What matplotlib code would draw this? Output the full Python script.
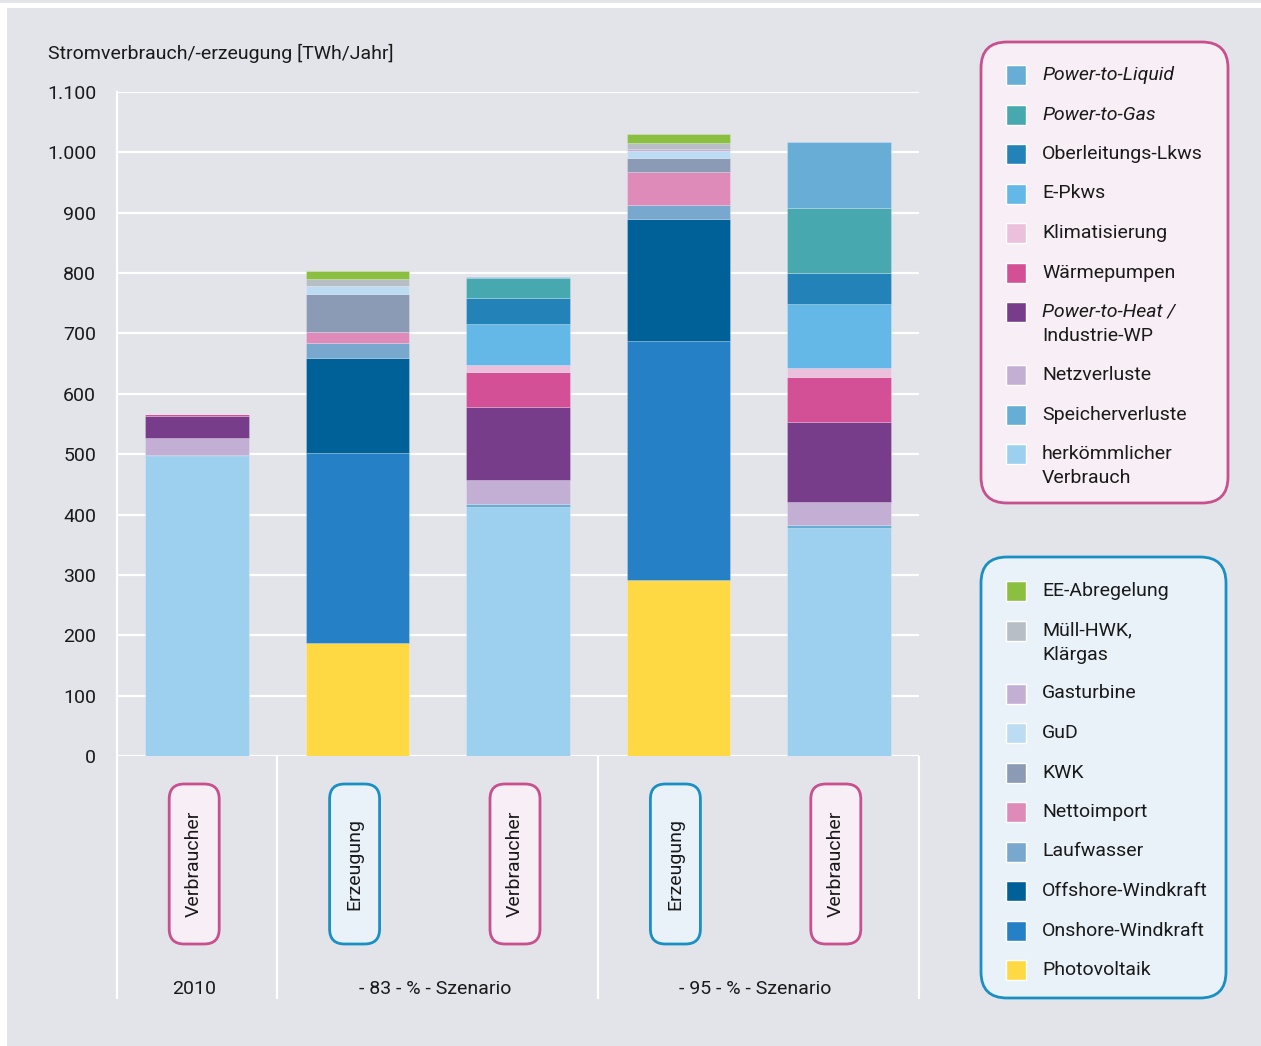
import matplotlib
matplotlib.use("Agg")
import matplotlib.pyplot as plt
from matplotlib.patches import FancyBboxPatch, Rectangle

plt.rcParams['font.family'] = ['Roboto', 'DejaVu Sans']

# ---------------- data ----------------
consumer_x = [0, 2, 4]
herkoemmlich = [497, 413, 377]
speicherverluste = [1, 4, 5]
netzverluste = [28, 40, 39]
power_to_heat = [38, 121, 132]
waermepumpen = [3, 58, 75]
klimatisierung = [0, 11, 14]
e_pkws = [0, 68, 106]
oberleitungs_lkws = [0, 44, 52]
power_to_gas = [0, 33, 108]
power_to_liquid = [0, 1, 109]

generation_x = [1, 3]
photovoltaik = [187, 291]
onshore = [315, 396]
offshore = [157, 202]
laufwasser = [25, 24]
nettoimport = [19, 55]
kwk = [63, 23]
gud = [13, 12]
gasturbine = [0, 3]
muell = [12, 10]
ee_abregelung = [12, 14]

bar_kinds = ["Verbraucher", "Erzeugung", "Verbraucher", "Erzeugung", "Verbraucher"]
group_labels = ["2010", "- 83 - % - Szenario", "- 95 - % - Szenario"]
group_centers = [0, 1.5, 3.5]
group_edges = [-0.5, 0.5, 2.5, 4.5]
y_ticks = [0, 100, 200, 300, 400, 500, 600, 700, 800, 900, 1000, 1100]
y_ticklabels = ["0", "100", "200", "300", "400", "500", "600", "700", "800",
                "900", "1.000", "1.100"]

# (values, color, legend lines, italic first line)
consumer_series = [
    (herkoemmlich, '#9dcfee', ["herkömmlicher", "Verbrauch"], False),
    (speicherverluste, '#67aed6', ["Speicherverluste"], False),
    (netzverluste, '#c4afd4', ["Netzverluste"], False),
    (power_to_heat, '#773d8a', ["Power-to-Heat /", "Industrie-WP"], True),
    (waermepumpen, '#d35097', ["Wärmepumpen"], False),
    (klimatisierung, '#ecc0dc', ["Klimatisierung"], False),
    (e_pkws, '#63b8e8', ["E-Pkws"], False),
    (oberleitungs_lkws, '#2383b8', ["Oberleitungs-Lkws"], False),
    (power_to_gas, '#48a8b0', ["Power-to-Gas"], True),
    (power_to_liquid, '#67add6', ["Power-to-Liquid"], True),
]
generation_series = [
    (photovoltaik, '#fed944', ["Photovoltaik"], False),
    (onshore, '#2680c5', ["Onshore-Windkraft"], False),
    (offshore, '#006199', ["Offshore-Windkraft"], False),
    (laufwasser, '#78a8cd', ["Laufwasser"], False),
    (nettoimport, '#df8bba', ["Nettoimport"], False),
    (kwk, '#8b9ab5', ["KWK"], False),
    (gud, '#bcdcf3', ["GuD"], False),
    (gasturbine, '#c4afd4', ["Gasturbine"], False),
    (muell, '#b7bec6', ["Müll-HWK,", "Klärgas"], False),
    (ee_abregelung, '#8bbf40', ["EE-Abregelung"], False),
]

PANEL = '#e2e4e9'
PINK = '#c8508e'
PINK_FILL = '#f8eef5'
BLUE = '#1a8fc4'
BLUE_FILL = '#eaf2f9'
TXT = '#1a1a1a'
FS = 14

W, H = 1261, 1046
fig = plt.figure(figsize=(W / 100, H / 100), dpi=100, facecolor=PANEL)

# white strips framing the panel
fig.patches.append(Rectangle((0, 1 - 8 / H), 1, 5 / H, transform=fig.transFigure,
                             facecolor='white', edgecolor='none'))
fig.patches.append(Rectangle((0, 0), 7 / W, 1 - 8 / H, transform=fig.transFigure,
                             facecolor='white', edgecolor='none'))

# ---------------- main axes ----------------
ax_l, ax_r, ax_t, ax_b = 117, 919, 92, 756
ax = fig.add_axes([ax_l / W, 1 - ax_b / H, (ax_r - ax_l) / W, (ax_b - ax_t) / H])
ax.set_facecolor(PANEL)
ax.set_xlim(-0.5, 4.5)
ax.set_ylim(0, 1100)
ax.set_axisbelow(True)
ax.set_yticks(y_ticks)
ax.set_yticklabels(y_ticklabels)
ax.set_xticks([])
ax.grid(axis='y', color='white', linewidth=1.6)
ax.tick_params(axis='y', length=0, pad=15, labelsize=FS, labelcolor=TXT)
for s in ['top', 'right', 'bottom']:
    ax.spines[s].set_visible(False)
ax.spines['left'].set_color('white')
ax.spines['left'].set_linewidth(1.6)

bw = 0.645
bottom = [0] * len(consumer_x)
for vals, col, _, _ in consumer_series:
    ax.bar(consumer_x, vals, bw, bottom=bottom, color=col,
           edgecolor=(1, 1, 1, 0.25), linewidth=0.6)
    bottom = [b + v for b, v in zip(bottom, vals)]
bottom = [0] * len(generation_x)
for vals, col, _, _ in generation_series:
    ax.bar(generation_x, vals, bw, bottom=bottom, color=col,
           edgecolor=(1, 1, 1, 0.25), linewidth=0.6)
    bottom = [b + v for b, v in zip(bottom, vals)]

fig.text(48 / W, 1 - 53 / H, "Stromverbrauch/-erzeugung [TWh/Jahr]",
         ha='left', va='center', fontsize=FS, color=TXT)

# ---------------- overlay in pixel coords ----------------
ov = fig.add_axes([0, 0, 1, 1], facecolor='none')
ov.set_xlim(0, W)
ov.set_ylim(H, 0)
ov.axis('off')


def xpix(xd):
    return ax.transData.transform((xd, 0))[0]


# category area separators
for e in group_edges:
    px = xpix(e)
    ov.plot([px, px], [ax_b, 999], color='white', lw=1.6, solid_capstyle='butt')

# bar kind boxes
for i, kind in enumerate(bar_kinds):
    cx = xpix(i) - 3
    ec, fc = (PINK, PINK_FILL) if kind == "Verbraucher" else (BLUE, BLUE_FILL)
    bx_w, bx_h, top = 50, 160, 784
    ov.add_patch(FancyBboxPatch((cx - bx_w / 2, top), bx_w, bx_h,
                                boxstyle="round,pad=0,rounding_size=15",
                                facecolor=fc, edgecolor=ec, linewidth=2.0))
    ov.text(cx, top + bx_h / 2, kind, rotation=90, ha='center', va='center',
            fontsize=FS, color=TXT)

# group labels
for lab, gc in zip(group_labels, group_centers):
    ov.text(xpix(gc) - 3, 989, lab, ha='center', va='center', fontsize=FS, color=TXT)


# ---------------- legends ----------------
def legend_box(series, x0, y0, x1, y1, ec, fc, first_y):
    ov.add_patch(FancyBboxPatch((x0, y0), x1 - x0, y1 - y0,
                                boxstyle="round,pad=0,rounding_size=26",
                                facecolor=fc, edgecolor=ec, linewidth=2.0))
    y = first_y
    for vals, col, lines, ital in reversed(series):
        ov.add_patch(Rectangle((1006, y - 10), 20, 20, facecolor=col,
                               edgecolor='white', linewidth=1.0))
        for k, line in enumerate(lines):
            style = 'italic' if (ital and k == 0) else 'normal'
            ov.text(1042, y + 24 * k, line, ha='left', va='center',
                    fontsize=FS, color=TXT, style=style)
        y += 39.5 + 23.5 * (len(lines) - 1)


legend_box(consumer_series, 981, 42, 1228, 503, PINK, PINK_FILL, 75)
legend_box(generation_series, 981, 557, 1226, 998, BLUE, BLUE_FILL, 591)

fig.savefig("out.png", dpi=100, facecolor=fig.get_facecolor())
